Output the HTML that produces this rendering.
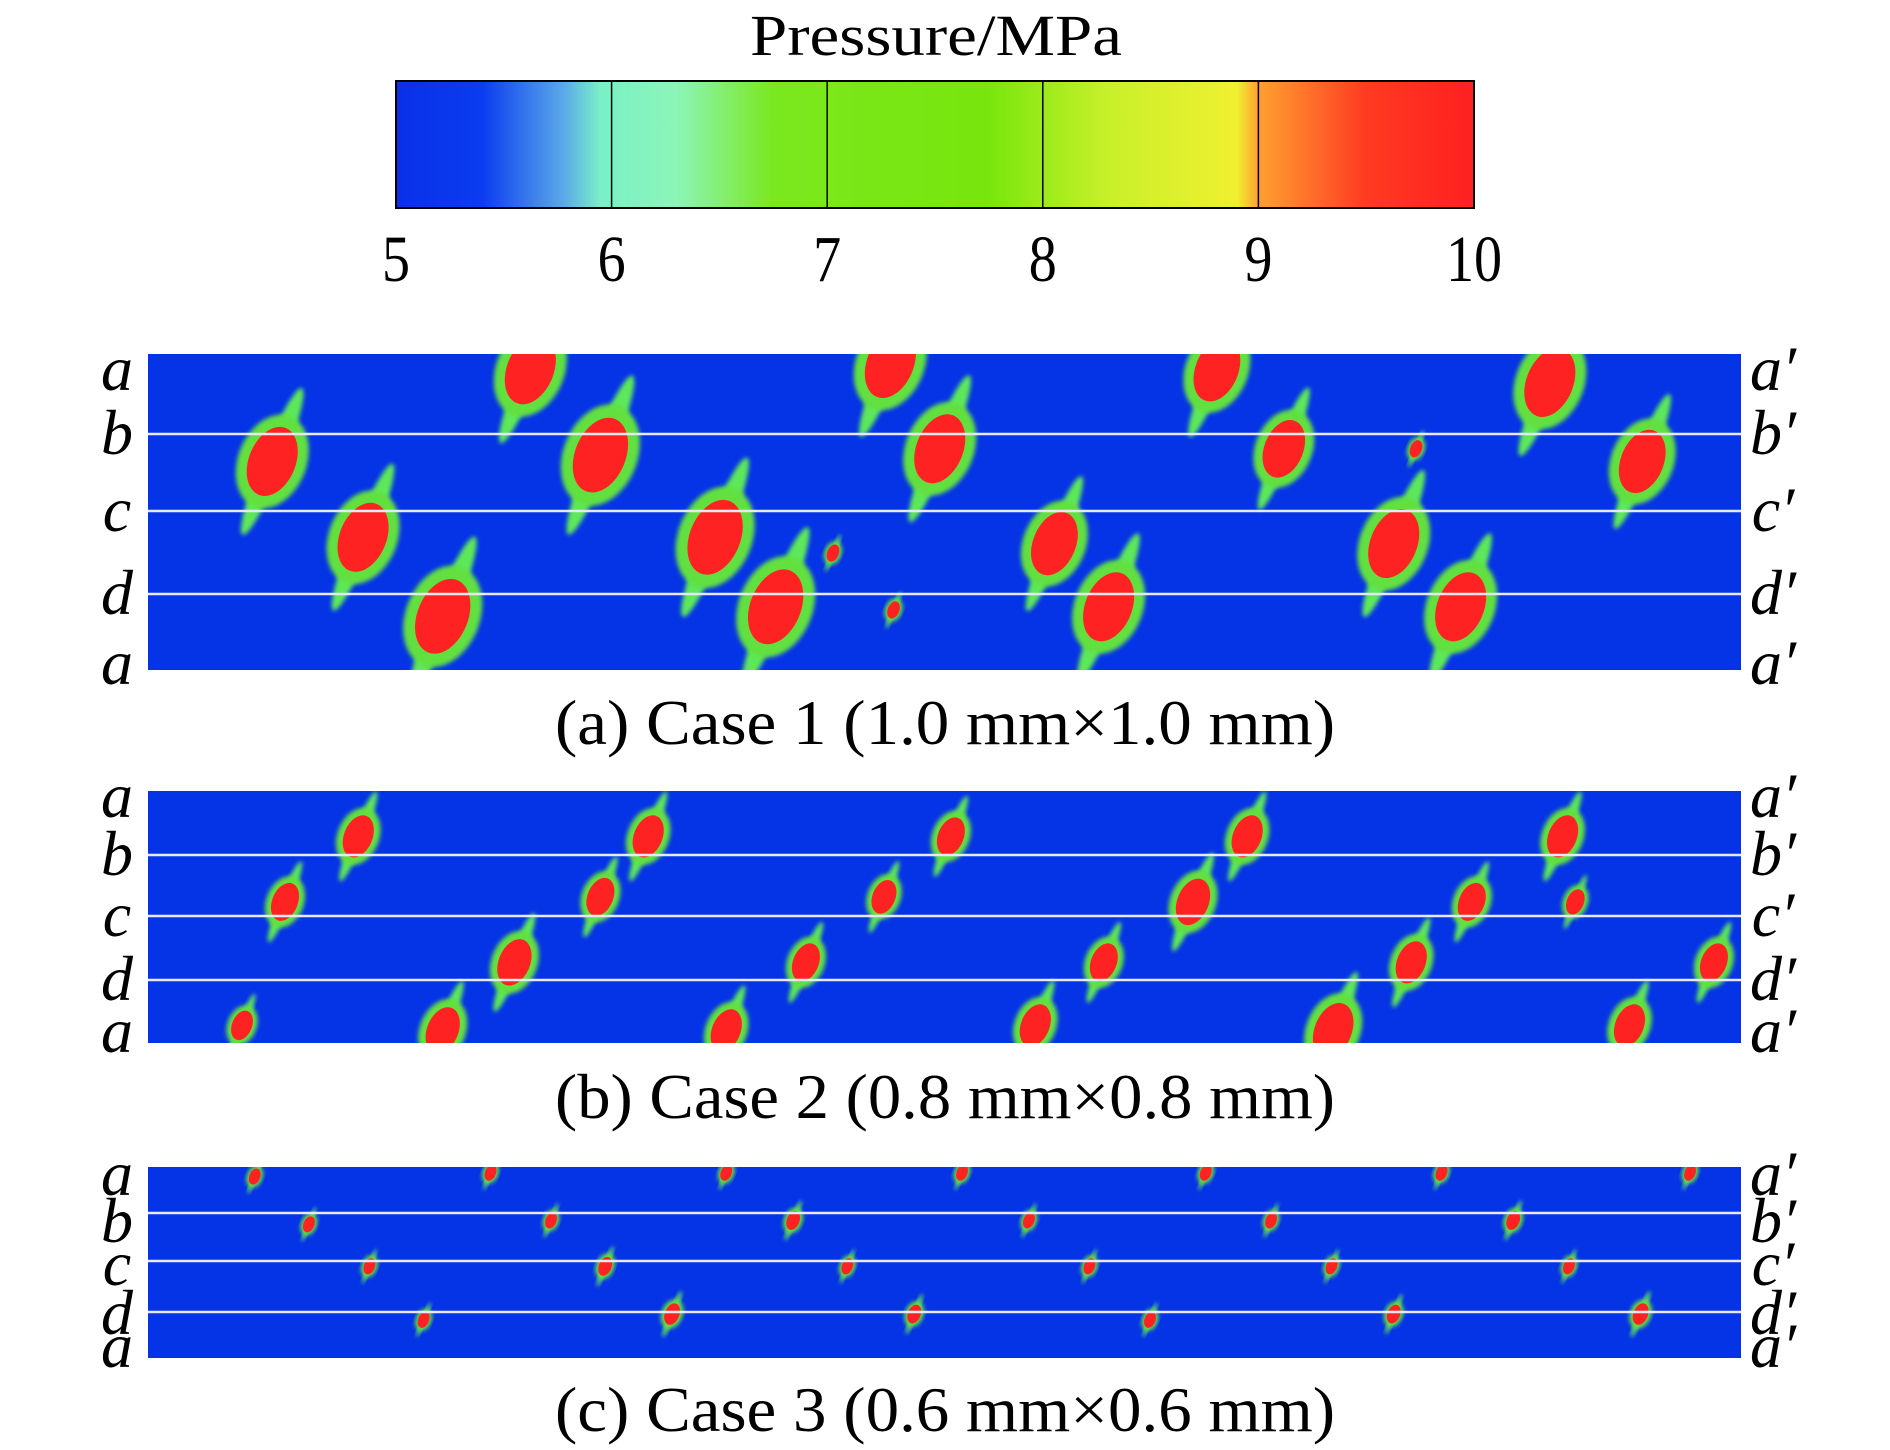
<!DOCTYPE html>
<html><head><meta charset="utf-8">
<style>
html,body{margin:0;padding:0;background:#fff;}
body{width:1890px;height:1445px;overflow:hidden;font-family:"Liberation Serif",serif;}
</style></head>
<body>
<svg id="fig" width="1890" height="1445" viewBox="0 0 1890 1445" xmlns="http://www.w3.org/2000/svg">
<defs>
<linearGradient id="cbar" x1="0" x2="1" y1="0" y2="0">
<stop offset="0" stop-color="#0a30e8"/>
<stop offset="0.08" stop-color="#0b3cf0"/>
<stop offset="0.155" stop-color="#5aa8e8"/>
<stop offset="0.19" stop-color="#7af0c8"/>
<stop offset="0.26" stop-color="#8cf5b8"/>
<stop offset="0.35" stop-color="#7ae81e"/>
<stop offset="0.55" stop-color="#78e60c"/>
<stop offset="0.66" stop-color="#c8f02a"/>
<stop offset="0.78" stop-color="#f0f030"/>
<stop offset="0.80" stop-color="#ffa030"/>
<stop offset="0.9" stop-color="#ff3a22"/>
<stop offset="1" stop-color="#ff2020"/>
</linearGradient>
<filter id="soft"><feGaussianBlur stdDeviation="2"/></filter>
</defs>
<text x="936" y="55" font-size="58" text-anchor="middle" font-family="Liberation Serif, serif" textLength="372" lengthAdjust="spacingAndGlyphs">Pressure/MPa</text>
<rect x="396" y="81" width="1078" height="127" fill="url(#cbar)" stroke="#000" stroke-width="2"/>
<g id="cbticks"></g>
<g id="panels"></g>
</svg>
<script>
const cbTicks=["5","6","7","8","9","10"];
const cbDividerValues=[6,7,8,9];
const panelNames=["panel-a","panel-b","panel-c"];
const panelCaptions=["(a) Case 1 (1.0 mm×1.0 mm)","(b) Case 2 (0.8 mm×0.8 mm)","(c) Case 3 (0.6 mm×0.6 mm)"];
// red-spot centres in panel fractions [x, y, size]
const spotsA=[[0.24,0.05,1.2],[0.466,0.03,1.2],[0.671,0.05,1.1],[0.88,0.09,1.2],
[0.078,0.34,1.2],[0.284,0.32,1.3],[0.497,0.3,1.2],[0.713,0.3,1.0],[0.938,0.34,1.1],
[0.135,0.58,1.2],[0.356,0.58,1.3],[0.569,0.6,1.1],[0.782,0.6,1.2],
[0.185,0.83,1.3],[0.394,0.8,1.3],[0.603,0.8,1.2],[0.824,0.8,1.2],[0.468,0.81,0.3],[0.43,0.63,0.3],[0.796,0.3,0.3]];
const spotsB=[[0.132,0.18,1.0],[0.314,0.18,1.0],[0.504,0.18,0.9],[0.69,0.18,1.0],[0.888,0.18,1.0],
[0.086,0.44,0.9],[0.284,0.42,0.9],[0.462,0.42,0.8],[0.656,0.44,1.1],[0.831,0.44,0.9],[0.896,0.44,0.6],
[0.23,0.68,1.1],[0.413,0.68,0.9],[0.6,0.68,0.9],[0.793,0.68,1.0],[0.983,0.68,0.9],
[0.185,0.95,1.1],[0.363,0.95,1.0],[0.557,0.93,1.0],[0.744,0.95,1.3],[0.93,0.93,1.0],[0.059,0.93,0.7]];
const spotsC=[[0.067,0.05,0.6],[0.215,0.03,0.6],[0.363,0.03,0.6],[0.511,0.03,0.6],[0.664,0.03,0.6],[0.812,0.03,0.6],[0.968,0.03,0.6],
[0.101,0.3,0.6],[0.253,0.28,0.6],[0.405,0.28,0.7],[0.553,0.28,0.6],[0.705,0.28,0.6],[0.857,0.28,0.7],
[0.139,0.52,0.6],[0.287,0.52,0.7],[0.439,0.52,0.6],[0.591,0.52,0.6],[0.743,0.52,0.6],[0.892,0.52,0.6],
[0.173,0.8,0.6],[0.329,0.77,0.8],[0.481,0.77,0.7],[0.629,0.8,0.6],[0.782,0.77,0.7],[0.937,0.77,0.8]];
const panelSpots=[spotsA,spotsB,spotsC];
const rowLabels=["a","b","c","d","a"];
const ns="http://www.w3.org/2000/svg";
const cbX0=396,cbX1=1474;
function cbScale(v){return cbX0+(v-5)/5*(cbX1-cbX0);}
const cbg=document.getElementById('cbticks');
cbTicks.forEach(t=>{
 const e=document.createElementNS(ns,'text');
 
 
 e.setAttribute('x',cbScale(+t));e.setAttribute('y',281);
 e.setAttribute('font-size','66');e.setAttribute('text-anchor','middle');
 e.setAttribute('transform','translate('+cbScale(+t)+' 0) scale(0.85 1) translate('+(-cbScale(+t))+' 0)');
 e.textContent=t;cbg.appendChild(e);
});
cbDividerValues.forEach(v=>{
 const l=document.createElementNS(ns,'line');
 
 
 l.setAttribute('x1',cbScale(v));l.setAttribute('x2',cbScale(v));
 l.setAttribute('y1',81);l.setAttribute('y2',208);
 l.setAttribute('stroke','#000');l.setAttribute('stroke-width','1.5');
 cbg.appendChild(l);
});
const layout=[
 {y0:354,y1:670,lines:[434,511,594],cap:744,lab:[370,434,511,594,664]},
 {y0:791,y1:1043,lines:[855,916,980],cap:1118,lab:[797,855,916,980,1032]},
 {y0:1167,y1:1358,lines:[1213,1261,1312],cap:1431,lab:[1175,1222,1265,1314,1347]}
];
const pg=document.getElementById('panels');
layout.forEach((L,i)=>{
 const g=document.createElementNS(ns,'g');
 
 
 const px0=148,pw=1593,ph=L.y1-L.y0;
 const cp=document.createElementNS(ns,'clipPath');cp.setAttribute('id','cp'+i);
 const cr=document.createElementNS(ns,'rect');cr.setAttribute('x',px0);cr.setAttribute('y',L.y0);cr.setAttribute('width',pw);cr.setAttribute('height',ph);
 cp.appendChild(cr);g.appendChild(cp);
 const bg=document.createElementNS(ns,'rect');
 
 
 bg.setAttribute('x',px0);bg.setAttribute('y',L.y0);bg.setAttribute('width',pw);bg.setAttribute('height',ph);bg.setAttribute('fill','#0533e6');
 g.appendChild(bg);
 const sg=document.createElementNS(ns,'g');sg.setAttribute('clip-path','url(#cp'+i+')');
 const base=i===0?30:(i===1?22:14);
 panelSpots[i].forEach(s=>{
  const cx=px0+s[0]*pw,cy=L.y0+s[1]*ph,r=base*s[2];
  const tr='rotate(-68 '+cx+' '+cy+')';
  const tail=document.createElementNS(ns,'ellipse');
  
  
  tail.setAttribute('cx',cx);tail.setAttribute('cy',cy);tail.setAttribute('rx',r*2.2);tail.setAttribute('ry',r*0.3);
  tail.setAttribute('fill','#5de85a');tail.setAttribute('transform',tr);tail.setAttribute('filter','url(#soft)');
  sg.appendChild(tail);
  const gr=document.createElementNS(ns,'ellipse');
  
  
  gr.setAttribute('cx',cx);gr.setAttribute('cy',cy);gr.setAttribute('rx',r*1.35);gr.setAttribute('ry',r*0.95);
  gr.setAttribute('fill','#62e040');gr.setAttribute('transform',tr);gr.setAttribute('filter','url(#soft)');
  sg.appendChild(gr);
  const rd=document.createElementNS(ns,'ellipse');
  
  
  rd.setAttribute('cx',cx);rd.setAttribute('cy',cy);rd.setAttribute('rx',r*1.0);rd.setAttribute('ry',r*0.65);
  rd.setAttribute('fill','#ff2222');rd.setAttribute('transform',tr);
  sg.appendChild(rd);
 });
 g.appendChild(sg);
 L.lines.forEach(y=>{
  const l=document.createElementNS(ns,'line');
  
  
  l.setAttribute('x1',px0);l.setAttribute('x2',px0+pw);l.setAttribute('y1',y);l.setAttribute('y2',y);
  l.setAttribute('stroke','#e8e8f4');l.setAttribute('stroke-width','2.5');
  g.appendChild(l);
 });
 rowLabels.forEach((t,k)=>{
  const yc=L.lab[k];
  const a=document.createElementNS(ns,'text');
  
  
  a.setAttribute('x',117);a.setAttribute('y',yc+20);a.setAttribute('font-size','64');
  a.setAttribute('font-style','italic');a.setAttribute('text-anchor','middle');a.textContent=t;g.appendChild(a);
  const b=document.createElementNS(ns,'text');
  
  
  b.setAttribute('x',1773);b.setAttribute('y',yc+20);b.setAttribute('font-size','64');
  b.setAttribute('font-style','italic');b.setAttribute('text-anchor','middle');b.textContent=t+'′';g.appendChild(b);
 });
 const c=document.createElementNS(ns,'text');
 
 
 c.setAttribute('x',945);c.setAttribute('y',L.cap);c.setAttribute('font-size','64');c.setAttribute('text-anchor','middle');
 c.setAttribute('textLength','780');c.setAttribute('lengthAdjust','spacingAndGlyphs');
 c.textContent=panelCaptions[i];g.appendChild(c);
 pg.appendChild(g);
});
</script>
</body></html>
